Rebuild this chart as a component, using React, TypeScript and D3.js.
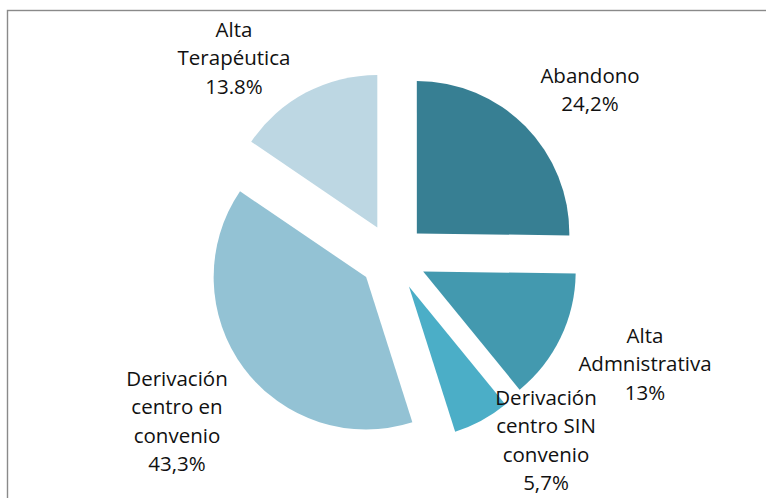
import { useEffect, useRef } from 'react';
import * as d3 from 'd3';

// slice shares as drawn (angles), labels as printed
const categories = [
  'Abandono',
  'Alta Admnistrativa',
  'Derivación centro SIN convenio',
  'Derivación centro en convenio',
  'Alta Terapéutica',
];
const shares = [25.2, 13.9, 6.0, 39.4, 15.5];
const labelLines = [
  ['Abandono', '24,2%'],
  ['Alta', 'Admnistrativa', '13%'],
  ['Derivación', 'centro SIN', 'convenio', '5,7%'],
  ['Derivación', 'centro en', 'convenio', '43,3%'],
  ['Alta', 'Terapéutica', '13.8%'],
];
const colors = ['#377f93', '#4399af', '#4baec7', '#93c2d4', '#bdd7e3'];

// label anchors (centre x, first baseline y) relative to the pie centre
const labelOffsets = [
  [197, -174],
  [252, 86],
  [153, 148],
  [-216, 129],
  [-159, -220],
];

const W = 766;
const H = 498;

export default function App() {
  const svgRef = useRef<SVGSVGElement>(null);

  useEffect(() => {
    const svg = d3.select(svgRef.current);
    svg.selectAll('*').remove();

    const cx = 393;
    const cy = 257;
    const radius = 152.5;
    const explode = 33.5;

    // chart frame (only top and left edges are in view)
    svg.append('rect')
      .attr('x', 7.5)
      .attr('y', 10.5)
      .attr('width', 900)
      .attr('height', 700)
      .attr('fill', 'none')
      .attr('stroke', '#8a8a8a')
      .attr('stroke-width', 1.4);

    const data = categories.map((c, i) => ({ name: c, value: shares[i], i }));

    const pie = d3.pie<any>()
      .sort(null)
      .value(d => d.value)
      .startAngle(0)
      .endAngle(2 * Math.PI);

    const arc = d3.arc<any>()
      .innerRadius(0)
      .outerRadius(radius);

    const g = svg.append('g').attr('transform', `translate(${cx},${cy})`);

    g.selectAll('.slice')
      .data(pie(data))
      .join('path')
      .attr('class', 'slice')
      .attr('fill', d => colors[d.data.i])
      .attr('transform', d => {
        const mid = (d.startAngle + d.endAngle) / 2;
        return `translate(${explode * Math.sin(mid)},${-explode * Math.cos(mid)})`;
      })
      .attr('d', arc);

    // data labels
    const lineH = 28.3;
    const labels = g.selectAll('.label')
      .data(data)
      .join('text')
      .attr('class', 'label')
      .attr('text-anchor', 'middle')
      .attr('font-family', '"Open Sans", "Noto Sans", sans-serif')
      .attr('font-size', 20.5)
      .attr('fill', '#111');

    labels.each(function (d) {
      const [ox, oy] = labelOffsets[d.i];
      d3.select(this)
        .selectAll('tspan')
        .data(labelLines[d.i])
        .join('tspan')
        .attr('x', ox)
        .attr('y', (_, k) => oy + k * lineH)
        .text(t => t);
    });
  }, []);

  return (
    <svg
      ref={svgRef}
      width={W}
      height={H}
      style={{ position: 'absolute', left: 0, top: 0, background: '#fff' }}
    />
  );
}
